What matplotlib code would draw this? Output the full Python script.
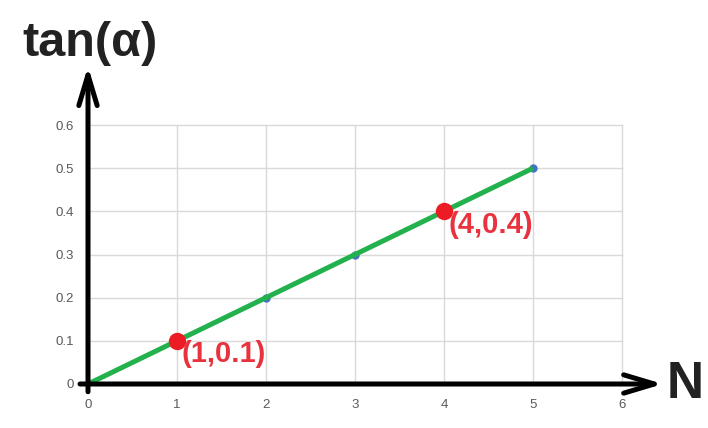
import matplotlib
matplotlib.use("Agg")
import matplotlib.pyplot as plt

# Data
n_values = [0, 1, 2, 3, 4, 5]
tan_values = [0.0, 0.1, 0.2, 0.3, 0.4, 0.5]
highlight_n = [1, 4]
highlight_tan = [0.1, 0.4]
highlight_labels = ["(1,0.1)", "(4,0.4)"]
x_ticks = [0, 1, 2, 3, 4, 5, 6]
y_ticks = [0, 0.1, 0.2, 0.3, 0.4, 0.5, 0.6]
y_tick_labels = ["0", "0.1", "0.2", "0.3", "0.4", "0.5", "0.6"]

plt.rcParams['font.family'] = ['Liberation Sans', 'DejaVu Sans']

W, H = 708, 428
fig = plt.figure(figsize=(W / 100, H / 100), dpi=100)
ax = fig.add_axes([88 / W, (H - 384) / H, (622 - 88) / W, (384 - 125) / H])

ax.set_xlim(0, 6)
ax.set_ylim(0, 0.6)
ax.set_xticks(x_ticks)
ax.set_yticks(y_ticks)
ax.set_yticklabels(y_tick_labels)
ax.tick_params(length=0, labelsize=9.5, labelcolor='#595959')
ax.tick_params(axis='y', pad=10)
ax.tick_params(axis='x', pad=11)
for s in ax.spines.values():
    s.set_visible(False)
ax.grid(True, color='#d9d9d9', lw=1)
for gl in ax.get_xgridlines() + ax.get_ygridlines():
    gl.set_clip_on(False)
ax.set_axisbelow(True)

# Series
ax.plot(n_values, tan_values, 'o', color='#4472c4', ms=5, zorder=3)
ax.plot(n_values, tan_values, color='#22b14c', lw=3.6, solid_capstyle='butt', zorder=4)

# Axis arrows
arrow_kw = dict(arrowstyle='->, head_length=1.1, head_width=0.33', lw=3.6,
                color='black', mutation_scale=20, shrinkA=0, shrinkB=0)
ax.annotate('', xy=(6.46, 0), xytext=(-0.09, 0), xycoords='data',
            arrowprops=arrow_kw, annotation_clip=False, zorder=6)
ax.annotate('', xy=(0, 0.736), xytext=(0, -0.018), xycoords='data',
            arrowprops=arrow_kw, annotation_clip=False, zorder=6)

# Highlighted points
ax.plot(highlight_n, highlight_tan, 'o', color='#ed1c24', ms=11.5, zorder=7, clip_on=False)
for xv, yv, lab in zip(highlight_n, highlight_tan, highlight_labels):
    ax.text(xv + 0.05, yv - 0.031, lab, color='#e8333f', fontsize=21,
            fontweight='bold', ha='left', va='center', zorder=8)

# Axis titles
fig.text(22 / W, 1 - 43 / H, 'tan(α)', fontsize=35, fontweight='bold',
         color='#222222', ha='left', va='center')
fig.text(667 / W, 1 - 384 / H, 'N', fontsize=37, fontweight='bold',
         color='#222222', ha='left', va='center')

fig.savefig('out.png', dpi=100)
